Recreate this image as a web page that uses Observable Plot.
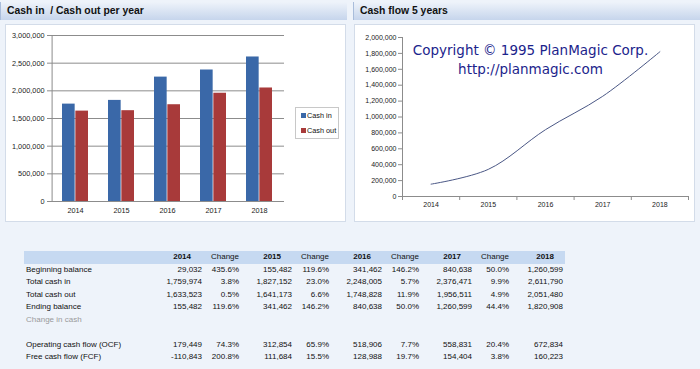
<!DOCTYPE html>
<html><head><meta charset="utf-8">
<script src="https://cdn.jsdelivr.net/npm/d3@7"></script>
<script src="https://cdn.jsdelivr.net/npm/@observablehq/plot@0.6"></script>
<style>
html,body{margin:0;padding:0;}
body{width:700px;height:369px;background:#eef3fa;position:relative;overflow:hidden;font-family:"Liberation Sans",Arial,sans-serif;color:#111;}
.hdr{position:absolute;top:2px;height:18px;background:linear-gradient(#eef3fa,#c6d5ec);border-left:1px solid #a9bddb;font-weight:bold;font-size:10.4px;line-height:18px;color:#111;box-sizing:border-box;padding-left:6px;}
.panel{position:absolute;top:24px;height:198px;background:#fff;border:1px solid #d3dce9;box-sizing:border-box;}
.chart{position:absolute;top:25px;}
.legend{position:absolute;left:295px;top:107px;width:44px;height:32px;border:1px solid #c8c8c8;background:#fff;box-sizing:border-box;font-size:7.3px;}
.legend div{position:absolute;left:5px;white-space:nowrap;line-height:8px;}
.legend span{display:inline-block;width:5px;height:5px;margin-right:1px;vertical-align:0px;}
#tbl{position:absolute;left:24px;top:251px;display:grid;grid-template-columns:126px 52px 38px 52px 38px 52px 38px 52px 38px 55px;grid-auto-rows:12.5px;font-size:8px;line-height:12.5px;}
#tbl div{white-space:nowrap;}
#tbl .h{background:#c6d9f1;}
#tbl .lab{padding-left:2px;}
#tbl .num{text-align:right;}
#tbl .chg{text-align:right;padding-right:1px;}
#tbl .yr{text-align:right;padding-right:11px;font-weight:bold;}
#tbl .last{padding-right:2px;}
#tbl .gray{color:#9a9a9a;}
</style>
</head><body>
<div class="hdr" style="left:0;width:347px;">Cash in&nbsp; / Cash out per year</div>
<div class="hdr" style="left:353px;width:347px;">Cash flow 5 years</div>
<div class="panel" style="left:5px;width:341px;"></div>
<div class="panel" style="left:354px;width:341px;"></div>
<div id="c1" class="chart" style="left:5px;"></div>
<div id="c2" class="chart" style="left:355px;"></div>
<div class="legend" id="leg"></div>
<div id="tbl"></div>
<script>
// ---- data ----
const years = [2014, 2015, 2016, 2017, 2018];
const seriesNames = ["Cash in", "Cash out"];
const seriesColors = ["#3a68a8", "#a83a3a"];
const cashIn = [1759974, 1827152, 2248005, 2376471, 2611790];
const cashOut = [1633523, 1641173, 1748828, 1956511, 2051480];
const beginningBalance = [29032, 155482, 341462, 840638, 1260599];
const endingBalance = [155482, 341462, 840638, 1260599, 1820908];
const operatingCashFlow = [179449, 312854, 518906, 558831, 672834];
const freeCashFlow = [-110843, 111684, 128988, 154404, 160223];
const beginningChange = ["435.6%", "119.6%", "146.2%", "50.0%"];
const cashInChange = ["3.8%", "23.0%", "5.7%", "9.9%"];
const cashOutChange = ["0.5%", "6.6%", "11.9%", "4.9%"];
const endingChange = ["119.6%", "146.2%", "50.0%", "44.4%"];
const ocfChange = ["74.3%", "65.9%", "7.7%", "20.4%"];
const fcfChange = ["200.8%", "15.5%", "19.7%", "3.8%"];
const barTicks = [0, 500000, 1000000, 1500000, 2000000, 2500000, 3000000];
const lineTicks = [0, 200000, 400000, 600000, 800000, 1000000, 1200000, 1400000, 1600000, 1800000, 2000000];
const copyrightText = "Copyright © 1995 PlanMagic Corp.\nhttp://planmagic.com";

const fmt = v => v.toLocaleString("en-US");
const gray = "#8c8c8c";
const font = "'Liberation Sans', Arial, sans-serif";

// ---- left chart: grouped bars ----
const barData = [];
years.forEach((y, i) => {
  barData.push({year: y, series: seriesNames[0], value: cashIn[i]});
  barData.push({year: y, series: seriesNames[1], value: cashOut[i]});
});
const W1 = 340, H1 = 197, mL1 = 45, mR1 = 61, mT1 = 10, mB1 = 21;
const step1 = (W1 - mL1 - mR1) / years.length;
const padInner = 0.43;
const bw = step1 * (1 - padInner);
const c1 = Plot.plot({
  width: W1, height: H1, marginLeft: mL1, marginRight: mR1, marginTop: mT1, marginBottom: mB1,
  style: {fontFamily: font, fontSize: "7.3px", color: "#222", background: "transparent"},
  x: {domain: years, paddingInner: padInner, paddingOuter: padInner / 2},
  y: {domain: [0, 3000000]},
  color: {domain: seriesNames, range: seriesColors},
  marks: [
    Plot.ruleY(barTicks, {stroke: gray, strokeWidth: 1}),
    Plot.ruleX([years[0]], {stroke: gray, dx: -step1 / 2}),
    Plot.axisY({ticks: barTicks, tickFormat: fmt, tickSize: 3, tickPadding: 3, stroke: gray, label: null}),
    Plot.axisX({tickSize: 0, tickPadding: 6, tickFormat: d => String(d), label: null}),
    Plot.barY(barData.filter(d => d.series === seriesNames[0]), {x: "year", y: "value", fill: "series", insetRight: bw / 2}),
    Plot.barY(barData.filter(d => d.series === seriesNames[1]), {x: "year", y: "value", fill: "series", insetLeft: bw / 2})
  ]
});
document.getElementById("c1").appendChild(c1);

// legend
const leg = document.getElementById("leg");
seriesNames.forEach((s, i) => {
  const d = document.createElement("div");
  d.style.top = (4 + i * 15) + "px";
  d.innerHTML = `<span style="background:${seriesColors[i]}"></span>${s}`;
  leg.appendChild(d);
});

// ---- right chart: smooth line ----
const lineData = years.map((y, i) => ({year: y, value: endingBalance[i]}));
const xDom = [years[0] - 0.5, years[years.length - 1] + 0.5];
const bounds = d3.range(xDom[0], xDom[1] + 0.01, 1);
const c2 = Plot.plot({
  width: 340, height: 197, marginLeft: 47, marginRight: 7, marginTop: 12, marginBottom: 26,
  style: {fontFamily: font, fontSize: "7px", color: "#222", background: "transparent"},
  x: {domain: xDom},
  y: {domain: [0, 2000000]},
  marks: [
    Plot.ruleY([0], {stroke: gray}),
    Plot.ruleX([xDom[0]], {stroke: gray}),
    Plot.axisY({ticks: lineTicks, tickFormat: fmt, tickSize: 4, tickPadding: 2, stroke: gray, label: null}),
    Plot.axisX({ticks: years, tickSize: 0, tickPadding: 6, tickFormat: d => String(d), label: null}),
    Plot.axisX({ticks: bounds, tickSize: 4, tickFormat: () => "", stroke: gray, label: null}),
    Plot.line(lineData, {x: "year", y: "value", curve: "catmull-rom", stroke: "#4a5785", strokeWidth: 1}),
    Plot.text([copyrightText], {frameAnchor: "top", text: d => d, dx: -15, dy: 4, fontSize: 13.5, lineHeight: 1.42, fill: "#1c248c", fontFamily: "'DejaVu Sans', Verdana, sans-serif"})
  ]
});
document.getElementById("c2").appendChild(c2);

// ---- table ----
const tbl = document.getElementById("tbl");
function cell(text, cls) {
  const d = document.createElement("div");
  d.className = cls;
  d.textContent = text;
  tbl.appendChild(d);
}
cell("", "h lab");
years.forEach((y, i) => {
  cell(String(y), "h yr");
  if (i < years.length - 1) cell("Change", "h chg");
});
const rows = [
  ["Beginning balance", beginningBalance, beginningChange],
  ["Total cash in", cashIn, cashInChange],
  ["Total cash out", cashOut, cashOutChange],
  ["Ending balance", endingBalance, endingChange],
  ["Change in cash", null, null],
  ["", null, null],
  ["Operating cash flow (OCF)", operatingCashFlow, ocfChange],
  ["Free cash flow (FCF)", freeCashFlow, fcfChange]
];
rows.forEach(([label, vals, chg]) => {
  cell(label, "lab" + (label === "Change in cash" ? " gray" : ""));
  years.forEach((y, i) => {
    cell(vals ? fmt(vals[i]) : "", "num" + (i === years.length - 1 ? " last" : ""));
    if (i < years.length - 1) cell(chg ? chg[i] : "", "chg");
  });
});
</script>
</body></html>
